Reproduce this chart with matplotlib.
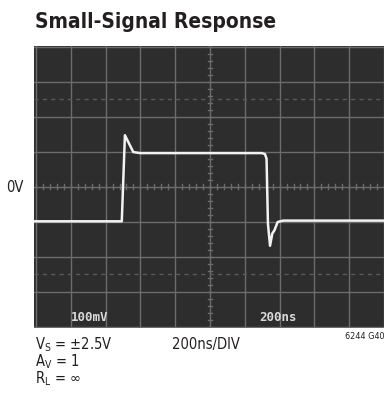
import matplotlib
matplotlib.use("Agg")
from matplotlib import pyplot as plt
import numpy as np

# trace (time in ns, amplitude in mV)
time_ns = [-20, 493, 511, 529, 559, 598, 1299, 1316, 1325, 1333, 1345, 1358, 1370, 1389, 1420, 2020]
volt_mv = [-99, -99, 147, 129, 99, 96, 96, 93, 80, -106, -169, -134, -125, -101, -97, -97]

ns_per_div = 200
mv_per_div = 100
n_xdiv = 10
n_ydiv = 8

W, H = 384, 402
fig = plt.figure(figsize=(W / 100, H / 100), dpi=100)
fig.patch.set_facecolor("white")

# screen area in pixels
left, right, top, bottom = 33.5, 384, 46.7, 329
ax = fig.add_axes([left / W, 1 - bottom / H, (right - left) / W, (bottom - top) / H])
ax.set_facecolor("#2d2d2d")

x0 = (33.5 - 36) / 34.8 * ns_per_div
ax.set_xlim(x0, n_xdiv * ns_per_div)
ax.set_ylim(-4.04 * mv_per_div, 4.03 * mv_per_div)

gridc = "#6c6c6c"
for i in range(n_xdiv + 1):
    ax.axvline(i * ns_per_div, color=gridc, lw=1.0, zorder=1)
for j in range(-n_ydiv // 2, n_ydiv // 2 + 1):
    ax.axhline(j * mv_per_div, color=gridc, lw=1.0, zorder=1)

# dotted rise-time markers
for yy in (2.5, -2.5):
    ax.axhline(yy * mv_per_div, color="#5a5a5a", lw=1.0, ls=(0, (3, 3)), zorder=1)

# minor ticks along the centre lines
minor_x = np.arange(0, n_xdiv * ns_per_div + 1, ns_per_div / 5)
minor_y = np.arange(-4 * mv_per_div, 4 * mv_per_div + 1, mv_per_div / 5)
cx = n_xdiv / 2 * ns_per_div
for mx in minor_x:
    ax.plot([mx, mx], [-8, 8], color=gridc, lw=1.0, zorder=1)
for my in minor_y:
    ax.plot([cx - 14, cx + 14], [my, my], color=gridc, lw=1.0, zorder=1)

ax.plot(time_ns, volt_mv, color="#f2f2f2", lw=1.8, solid_joinstyle="round", zorder=3)

ax.set_xticks([])
ax.set_yticks([])
for s in ax.spines.values():
    s.set_visible(False)

# scope readouts
fig.text(71 / W, 1 - 317.5 / H, "100mV", color="#d8d8d8", family="DejaVu Sans Mono",
         weight="bold", fontsize=9, va="center")
fig.text(259 / W, 1 - 317.5 / H, "200ns", color="#d8d8d8", family="DejaVu Sans Mono",
         weight="bold", fontsize=9, va="center")

fam = "DejaVu Sans"
st = "condensed"
ink = "#231f20"
fig.text(35 / W, 1 - 28 / H, "Small-Signal Response", fontsize=15, weight="bold",
         family=fam, stretch=st, color=ink, va="baseline")
fig.text(6 / W, 1 - 188 / H, "0V", fontsize=10.5, family=fam, stretch=st, color=ink, va="center")
fig.text(35 / W, 1 - 349 / H, r"V$_\mathregular{S}$ = ±2.5V", fontsize=10.5, family=fam,
         stretch=st, color=ink, va="baseline")
fig.text(35 / W, 1 - 366 / H, r"A$_\mathregular{V}$ = 1", fontsize=10.5, family=fam,
         stretch=st, color=ink, va="baseline")
fig.text(35 / W, 1 - 383 / H, r"R$_\mathregular{L}$ = ∞", fontsize=10.5, family=fam,
         stretch=st, color=ink, va="baseline")
fig.text(172 / W, 1 - 349 / H, "200ns/DIV", fontsize=10.5, family=fam, stretch=st,
         color=ink, va="baseline")
fig.text(345 / W, 1 - 339 / H, "6244 G40", fontsize=6.5, family=fam, stretch=st,
         color=ink, va="baseline")

fig.savefig("out.png", dpi=100)
